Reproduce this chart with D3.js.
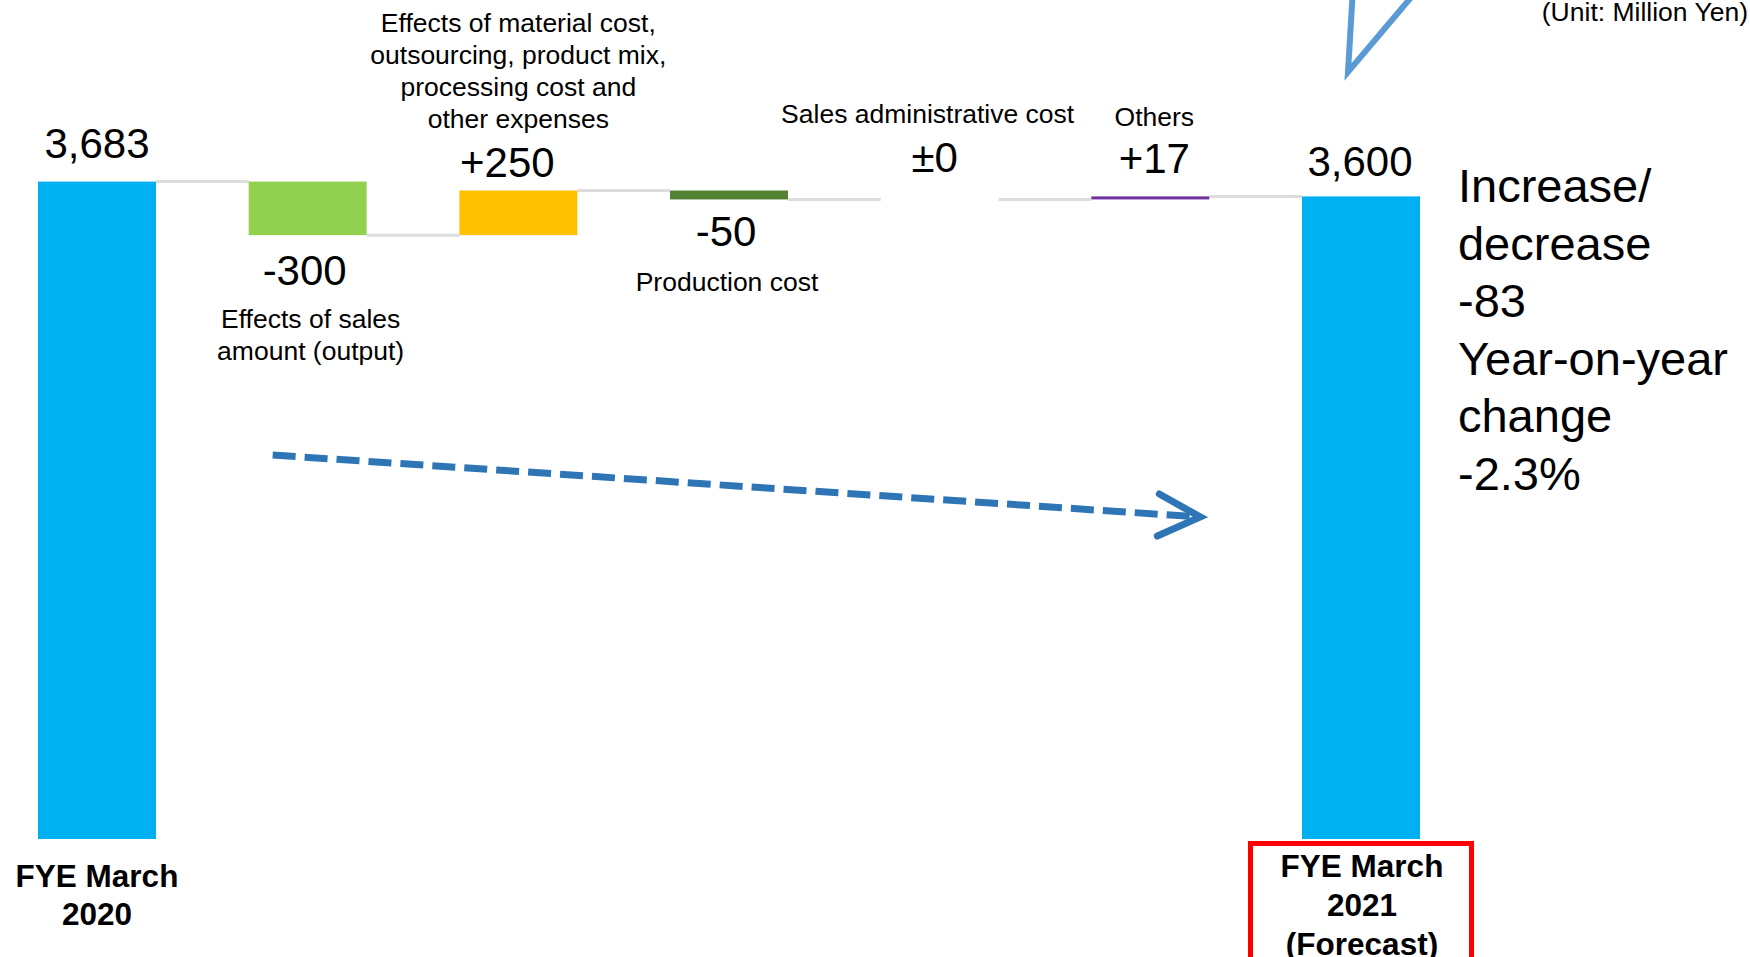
<!DOCTYPE html>
<html>
<head>
<meta charset="utf-8">
<script src="https://cdn.jsdelivr.net/npm/d3@7"></script>
<style>
  html, body { margin: 0; padding: 0; background: #fff; }
  svg { display: block; font-family: "Liberation Sans", Arial, Helvetica, sans-serif; }
</style>
</head>
<body>
<svg id="chart" width="1750" height="957"></svg>
<script>
// ---- Data: operating income bridge, FYE March 2020 -> FYE March 2021 (forecast) ----
const categories = [
  "FYE March 2020",
  "Effects of sales amount (output)",
  "Effects of material cost, outsourcing, product mix, processing cost and other expenses",
  "Production cost",
  "Sales administrative cost",
  "Others",
  "FYE March 2021 (Forecast)"
];
const categoryLines = [
  ["FYE March", "2020"],
  ["Effects of sales", "amount (output)"],
  ["Effects of material cost,", "outsourcing, product mix,", "processing cost and", "other expenses"],
  ["Production cost"],
  ["Sales administrative cost"],
  ["Others"],
  ["FYE March", "2021", "(Forecast)"]
];
const stepTypes = ["total", "delta", "delta", "delta", "delta", "delta", "total"];
const values = [3683, -300, 250, -50, 0, 17, 3600];
const unitNote = "(Unit: Million Yen)";

// ---- Styling ----
const barColors = ["#00b0f0", "#92d050", "#ffc000", "#548235", "#7f7f7f", "#7030a0", "#00b0f0"];
const W = 1750, H = 957;

// Label placement per step: which side of the bar the value sits on, gap from bar,
// horizontal nudge, and where the caption goes relative to the value label.
const valueLabelLayout = [
  { side: "above", gap: 24, dx: 0 },
  { side: "below", gap: 50, dx: -3 },
  { side: "above", gap: 14, dx: -11 },
  { side: "below", gap: 47, dx: -3 },
  { side: "above", gap: 27, dx: -5 },
  { side: "above", gap: 23, dx: 4 },
  { side: "above", gap: 20, dx: -1 }
];
const captionLayout = [
  { mode: "axis", gap: 48, lh: 37.5, dx: 0, bold: true },
  { mode: "below", gap: 43, lh: 32, dx: 3 },
  { mode: "above", gap: 49, lh: 32, dx: 0 },
  { mode: "below", gap: 45, lh: 32, dx: -2 },
  { mode: "above", gap: 49, lh: 32, dx: -12 },
  { mode: "above", gap: 47, lh: 32, dx: 4 },
  { mode: "axis", gap: 38, lh: 39, dx: 1, bold: true }
];

// ---- Waterfall steps ----
let running = 0;
const steps = values.map((v, i) => {
  if (stepTypes[i] === "total") {
    running = v;
    return { i, v, lo: 0, hi: v, end: v, type: "total" };
  }
  const start = running;
  running += v;
  return { i, v, lo: Math.min(start, running), hi: Math.max(start, running), end: running, type: "delta" };
});

const fmtTotal = d3.format(",");
function fmtValue(s) {
  if (s.type === "total") return fmtTotal(s.v);
  if (s.v > 0) return "+" + s.v;
  if (s.v < 0) return "-" + Math.abs(s.v);
  return "\u00b10";
}

// ---- Scales ----
const x = d3.scalePoint().domain(d3.range(categories.length)).range([97, 1361]);
const barW = x.step() * 0.56;
const y = d3.scaleLinear().domain([0, 4000]).range([839, 125]);

const svg = d3.select("#chart");
svg.append("rect").attr("width", W).attr("height", H).attr("fill", "#fff");

// Connector lines between consecutive bars at the running level
svg.append("g")
  .selectAll("line")
  .data(steps.slice(0, -1))
  .join("line")
  .attr("x1", d => x(d.i) + barW / 2)
  .attr("x2", d => x(d.i + 1) - barW / 2)
  .attr("y1", d => y(d.end))
  .attr("y2", d => y(d.end))
  .attr("stroke", "#dcdcdc")
  .attr("stroke-width", 3);

// Bars
svg.append("g")
  .selectAll("rect")
  .data(steps.filter(d => d.hi > d.lo))
  .join("rect")
  .attr("x", d => x(d.i) - barW / 2)
  .attr("width", barW)
  .attr("y", d => y(d.hi))
  .attr("height", d => Math.max(y(d.lo) - y(d.hi), 0))
  .attr("fill", d => barColors[d.i]);

// Value labels
const valueBaselines = steps.map((s, i) => {
  const L = valueLabelLayout[i];
  return L.side === "above" ? y(s.hi) - L.gap : y(s.lo) + L.gap;
});
svg.append("g")
  .selectAll("text")
  .data(steps)
  .join("text")
  .attr("x", d => x(d.i) + valueLabelLayout[d.i].dx)
  .attr("y", d => valueBaselines[d.i])
  .attr("text-anchor", "middle")
  .attr("font-size", 42)
  .attr("fill", "#000")
  .text(d => fmtValue(d));

// Category captions
const capG = svg.append("g");
categoryLines.forEach((lines, i) => {
  const L = captionLayout[i];
  let first;
  if (L.mode === "axis") first = y(0) + L.gap;
  else if (L.mode === "below") first = valueBaselines[i] + L.gap;
  else first = valueBaselines[i] - L.gap - (lines.length - 1) * L.lh;
  const t = capG.append("text")
    .attr("text-anchor", "middle")
    .attr("font-size", L.bold ? 31.5 : 26.5)
    .attr("font-weight", L.bold ? "bold" : "normal")
    .attr("fill", "#000");
  lines.forEach((ln, k) => {
    t.append("tspan")
      .attr("x", x(i) + L.dx)
      .attr("y", first + k * L.lh)
      .text(ln);
  });
});

// Red frame around the forecast caption
const last = categories.length - 1;
svg.append("rect")
  .attr("x", x(last) - 110.5)
  .attr("y", y(0) + 4.5)
  .attr("width", 221)
  .attr("height", 200)
  .attr("fill", "none")
  .attr("stroke", "#ff0000")
  .attr("stroke-width", 5);

// Year-on-year summary next to the forecast bar
const diff = values[last] - values[0];
const pct = diff / values[0] * 100;
const sign = v => (v < 0 ? "-" : v > 0 ? "+" : "\u00b1");
const summaryLines = [
  "Increase/",
  "decrease",
  sign(diff) + Math.abs(diff),
  "Year-on-year",
  "change",
  sign(pct) + Math.abs(pct).toFixed(1) + "%"
];
const sumT = svg.append("text")
  .attr("font-size", 47)
  .attr("fill", "#000");
summaryLines.forEach((ln, k) => {
  sumT.append("tspan")
    .attr("x", x(last) + barW / 2 + 38)
    .attr("y", 202 + k * 57.5)
    .text(ln);
});

// Unit note
svg.append("text")
  .attr("x", W - 2)
  .attr("y", 21)
  .attr("text-anchor", "end")
  .attr("font-size", 26.5)
  .attr("fill", "#000")
  .text(unitNote);

// Trend arrow (dashed) from the start toward the forecast
const arrowColor = "#2e75b6";
const ax0 = x(1) - 35, ay0 = 455, ax1 = x(5) + 50, ay1 = 517;
svg.append("line")
  .attr("x1", ax0).attr("y1", ay0)
  .attr("x2", ax1 - 6).attr("y2", ay1 - 0.4)
  .attr("stroke", arrowColor)
  .attr("stroke-width", 7)
  .attr("stroke-dasharray", "23 9");
svg.append("path")
  .attr("d", `M${ax1 - 41},${ay1 - 23} L${ax1},${ay1} L${ax1 - 43},${ay1 + 19}`)
  .attr("fill", "none")
  .attr("stroke", arrowColor)
  .attr("stroke-width", 7)
  .attr("stroke-linecap", "round")
  .attr("stroke-linejoin", "miter");

// Callout pointer reaching down from the top edge
svg.append("path")
  .attr("d", `M${x(last) - 8},-12 L${x(last) - 13},72 L${x(last) + 58},-12`)
  .attr("fill", "#fff")
  .attr("stroke", "#5b9bd5")
  .attr("stroke-width", 6)
  .attr("stroke-linejoin", "miter")
  .attr("stroke-miterlimit", 10);
</script>
</body>
</html>
